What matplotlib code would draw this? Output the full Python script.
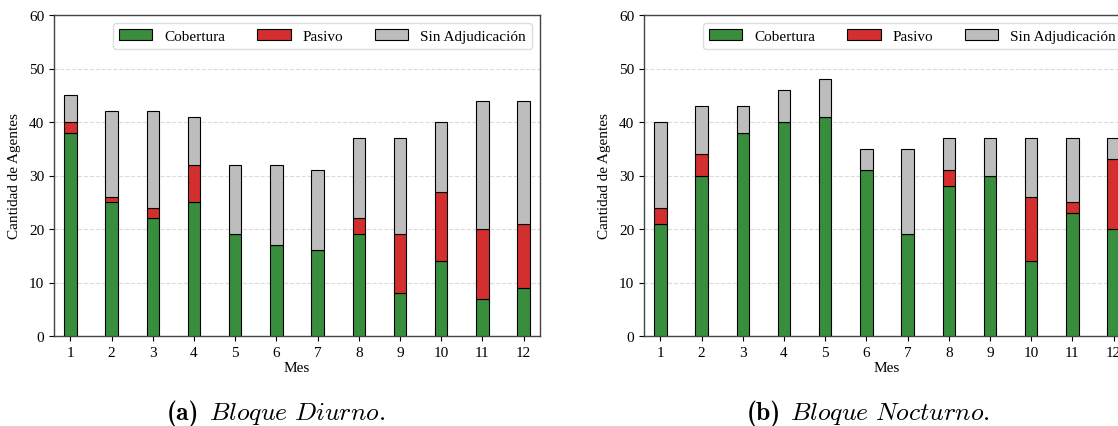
import os
import matplotlib
matplotlib.use("Agg")
import matplotlib.pyplot as plt
from matplotlib.font_manager import FontProperties
import numpy as np

plt.rcParams['font.family'] = ['Liberation Serif', 'DejaVu Serif']
plt.rcParams['mathtext.fontset'] = 'cm'

meses = list(range(1, 13))

diurno_cobertura = [38, 25, 22, 25, 19, 17, 16, 19, 8, 14, 7, 9]
diurno_pasivo = [2, 1, 2, 7, 0, 0, 0, 3, 11, 13, 13, 12]
diurno_sin = [5, 16, 18, 9, 13, 15, 15, 15, 18, 13, 24, 23]

nocturno_cobertura = [21, 30, 38, 40, 41, 31, 19, 28, 30, 14, 23, 20]
nocturno_pasivo = [3, 4, 0, 0, 0, 0, 0, 3, 0, 12, 2, 13]
nocturno_sin = [16, 9, 5, 6, 7, 4, 16, 6, 7, 11, 12, 4]

series_labels = ['Cobertura', 'Pasivo', 'Sin Adjudicación']
colors = ['#388E3C', '#D32F2F', '#BDBDBD']
caption_tags = ['(a)', '(b)']
caption_texts = [r'$\mathit{Bloque\ Diurno.}$', r'$\mathit{Bloque\ Nocturno.}$']

fdir = os.path.join(matplotlib.get_data_path(), 'fonts', 'ttf')
cmb = os.path.join(fdir, 'cmb10.ttf')
if os.path.exists(cmb):
    fp_bold = FontProperties(fname=cmb, size=18.5)
else:
    fp_bold = FontProperties(family='DejaVu Serif', weight='bold', size=17)

W, H = 1118, 427
fig = plt.figure(figsize=(W / 100, H / 100), dpi=100)

panels = [
    (54, (diurno_cobertura, diurno_pasivo, diurno_sin), 276),
    (644, (nocturno_cobertura, nocturno_pasivo, nocturno_sin), 868),
]

caption_pairs = []
for i, (left, data, cap_x) in enumerate(panels):
    ax = fig.add_axes([left / W, (H - 337) / H, 486 / W, 321 / H])
    x = np.array(meses)
    bottom = np.zeros(len(x))
    for vals, lab, col in zip(data, series_labels, colors):
        ax.bar(x, vals, width=0.3, bottom=bottom, color=col, edgecolor='black',
               linewidth=0.8, label=lab, zorder=3)
        bottom = bottom + np.array(vals)
    ax.set_xlim(0.6, 12.4)
    ax.set_ylim(0, 60)
    ax.set_xticks(meses)
    ax.set_yticks(range(0, 61, 10))
    ax.tick_params(labelsize=11, colors='black', length=3.5)
    ax.grid(axis='y', linestyle='--', color='#cccccc', alpha=0.7, linewidth=0.8, zorder=0)
    ax.set_axisbelow(True)
    for sp in ax.spines.values():
        sp.set_color('#444444')
        sp.set_linewidth(1.0)
    ax.set_xlabel('Mes', fontsize=11, labelpad=2)
    ax.set_ylabel('Cantidad de Agentes', fontsize=11, labelpad=6)
    ax.legend(loc='upper right', ncol=3, fontsize=11, frameon=True,
              fancybox=True, framealpha=1.0, edgecolor='#dddddd',
              handlelength=2.2, handleheight=0.8, columnspacing=2.05,
              borderaxespad=0.5, borderpad=0.4)
    yb = 1 - 420 / H
    t1 = fig.text(0, yb, caption_tags[i], fontproperties=fp_bold,
                  ha='left', va='baseline')
    t2 = fig.text(0, yb, caption_texts[i], fontsize=18.5,
                  ha='left', va='baseline')
    caption_pairs.append((t1, t2, cap_x))

fig.canvas.draw()
r = fig.canvas.get_renderer()
for t1, t2, cap_x in caption_pairs:
    w1 = t1.get_window_extent(r).width
    w2 = t2.get_window_extent(r).width
    gap = 9
    total = w1 + gap + w2
    x0 = cap_x - total / 2
    t1.set_x(x0 / W)
    t2.set_x((x0 + w1 + gap) / W)

fig.savefig('out.png', dpi=100)
